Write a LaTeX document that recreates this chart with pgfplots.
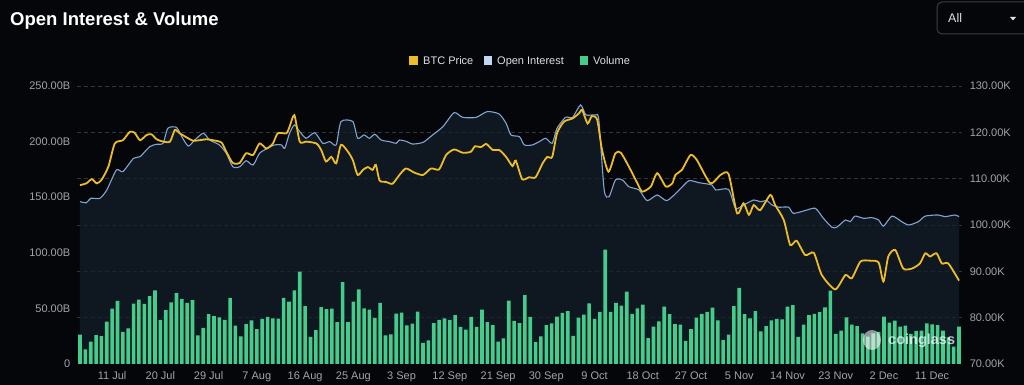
\documentclass[border=0pt]{standalone}
\usepackage{fontspec}
\setmainfont{Liberation Sans}
\usepackage{pgfplots}
\pgfplotsset{compat=1.18}
\definecolor{bg}{RGB}{5,6,9}
\definecolor{areac}{RGB}{20,30,42}
\definecolor{gridc}{RGB}{50,54,62}
\definecolor{tickc}{RGB}{160,164,171}
\definecolor{btc}{RGB}{238,188,38}
\definecolor{oic}{RGB}{128,165,210}
\definecolor{volc}{RGB}{70,204,138}
\definecolor{legoi}{RGB}{196,214,245}
\definecolor{legtxt}{RGB}{222,224,228}
\begin{document}
\begin{tikzpicture}[x=1pt,y=1pt]
\fill[bg] (0,0) rectangle (1024,385);
% title
\node[anchor=base west, inner sep=0, text=white, font=\fontsize{18.5}{20}\selectfont\bfseries] at (10,359) {Open Interest \& Volume};
% All box
\draw[draw={rgb,255:red,58;green,60;blue,66}, line width=1pt, rounded corners=5pt] (937,351) rectangle (1032,383);
\node[anchor=base west, inner sep=0, text=legtxt, font=\fontsize{12.5}{14}\selectfont] at (948,362) {All};
\fill[legtxt] (1010,368) -- (1016,368) -- (1013,364.5) -- cycle;
% legend
\fill[btc] (409,320) rectangle (417.5,328.5);
\node[anchor=base west, inner sep=0, text=legtxt, font=\fontsize{11}{13}\selectfont] at (423,320.5) {BTC Price};
\fill[legoi] (483.5,320) rectangle (492,328.5);
\node[anchor=base west, inner sep=0, text=legtxt, font=\fontsize{11}{13}\selectfont] at (497,320.5) {Open Interest};
\fill[volc] (579.5,320) rectangle (588,328.5);
\node[anchor=base west, inner sep=0, text=legtxt, font=\fontsize{11}{13}\selectfont] at (593,320.5) {Volume};

\begin{axis}[
  at={(77.3pt,21pt)}, anchor=south west,
  scale only axis, width=884.4pt, height=278pt,
  xmin=-0.5, xmax=164.5, ymin=0, ymax=250,
  axis line style={draw=none},
  major tick length=0pt,
  xtick={6,15,24,33,42,51,60,69,78,87,96,105,114,123,132,141,150,159},
  xticklabels={11 Jul,20 Jul,29 Jul,7 Aug,16 Aug,25 Aug,3 Sep,12 Sep,21 Sep,30 Sep,9 Oct,18 Oct,27 Oct,5 Nov,14 Nov,23 Nov,2 Dec,11 Dec},
  ytick={0,50,100,150,200,250},
  yticklabels={0,50.00B,100.00B,150.00B,200.00B,250.00B},
  tick label style={text=tickc, font=\fontsize{11}{13}\selectfont},
  xticklabel style={yshift=-4pt},
  yticklabel style={xshift=-3.5pt},
  extra y ticks={41.6667,83.3333,125,166.6667,208.3333,250},
  extra y tick labels={},
  extra y tick style={grid=major, major grid style={gridc, dash pattern=on 3.5pt off 3.5pt, line width=0.8pt}},
]
% open interest area
\addplot[draw=none, fill=areac, fill opacity=0.72, smooth, tension=0.4] table {
0 146
1.2 145
2 149
3.7 149
5 156.5
6.8 174.5
8 173
10 185
11.2 186.4
13 195.4
14.3 197.6
15.5 198.5
16.4 212
18 212.8
19 204.4
20.2 196
21.4 201.4
23 207.5
24.2 201.4
26 197
27.3 189.5
28.5 177.4
29.8 177.4
31 182.8
32.3 179
33.5 189.5
35 194
36.3 197
37.6 197
38.2 194
39.1 207.5
40 215
41 209
42.2 203
43.8 208
45.3 198.5
46.6 200
47.8 197
48.7 218
50.9 218
51.8 203
53 206
54 203
55 206.6
56.2 201.4
57.7 200
59 198.5
59.6 201.4
61 200
62 197.8
64 199.3
65.8 206
67.7 213.4
69.8 226
71.4 221.8
73.9 221.8
76 227
78.2 224.8
79.5 216.4
80.4 206
82 204.4
82.9 197
84.4 197
85.7 200
86.9 203
88.1 198.5
89 212
90.6 221.8
91.9 221.8
93.4 233
94.4 224
96.2 224
96.8 219.4
97.8 156.5
98.7 150.4
99.9 165.5
101.2 165.5
102.4 159.4
104.3 156.5
105.8 146.9
107.7 152
109.5 146.9
111.7 156
113.6 164.8
115.5 163
117.9 161
118.6 156.5
121 157
122.3 140
123.8 143
125.7 147.5
126.9 146
128.2 146.9
129.1 143
130.4 141
132.2 141
133.1 135.5
135.3 138
137.2 140
138.7 131
140.3 123
141.2 123
142.8 129.5
143.7 128
144.6 133
146.2 131
147.7 131.6
149 129.5
149.9 124
151.5 133
153.3 128
154.6 125
156.4 128
157.7 133
160.1 134
161.4 132.5
163.2 134
164 132.5
} \closedcycle;
% volume bars
\addplot[ybar, bar width=3.6pt, fill=volc, draw=none] table {
0 26.4
1 13.2
2 20.2
3 26.0
4 25.0
5 38.0
6 49.7
7 56.7
8 28.8
9 32.0
10 54.3
11 58.0
12 54.0
13 61.0
14 66.3
15 39.6
16 48.5
17 55.5
18 63.8
19 58.6
20 55.0
21 57.4
22 25.8
23 32.5
24 44.8
25 43.0
26 42.0
27 39.6
28 59.5
29 34.4
30 24.8
31 35.9
32 39.3
33 31.3
34 40.5
35 42.3
36 41.1
37 40.8
38 59.5
39 56.1
40 66.3
41 83.1
42 52.1
43 24.5
44 30.4
45 51.2
46 49.4
47 49.7
48 37.7
49 73.6
50 37.7
51 56.1
52 67.2
53 50.0
54 48.8
55 41.4
56 54.9
57 25.8
58 26.7
59 45.4
60 46.3
61 34.7
62 36.2
63 47.2
64 19.0
65 21.2
66 36.8
67 39.6
68 41.1
69 39.6
70 43.9
71 33.4
72 31.0
73 42.3
74 33.4
75 48.8
76 37.7
77 35.0
78 20.2
79 23.0
80 57.0
81 38.7
82 36.8
83 62.0
84 42.3
85 19.6
86 24.8
87 35.0
88 36.5
89 42.6
90 46.0
91 47.5
92 25.2
93 41.7
94 44.5
95 54.6
96 40.5
97 46.9
98 102.8
99 46.9
100 54.9
101 52.5
102 65.0
103 45.1
104 50.0
105 53.4
106 23.3
107 33.7
108 38.3
109 51.5
110 44.8
111 35.9
112 35.3
113 20.9
114 31.3
115 41.7
116 45.1
117 46.9
118 50.6
119 39.3
120 21.5
121 26.4
122 52.1
123 68.4
124 44.8
125 41.1
126 47.5
127 29.4
128 34.0
129 39.3
130 40.5
131 40.2
132 51.5
133 53.0
134 24.5
135 35.3
136 43.9
137 45.1
138 46.6
139 50.9
140 66.0
141 27.0
142 30.0
143 42.0
144 35.5
145 34.0
146 27.6
147 24.6
148 27.6
149 29.0
150 42.6
151 37.2
152 39.0
153 33.6
154 34.5
155 27.0
156 29.7
157 30.0
158 36.6
159 35.7
160 35.0
161 30.0
162 24.0
163 15.6
164 33.6
};
% open interest line
\addplot[oic, line width=1.1pt, smooth, tension=0.4] table {
0 146
1.2 145
2 149
3.7 149
5 156.5
6.8 174.5
8 173
10 185
11.2 186.4
13 195.4
14.3 197.6
15.5 198.5
16.4 212
18 212.8
19 204.4
20.2 196
21.4 201.4
23 207.5
24.2 201.4
26 197
27.3 189.5
28.5 177.4
29.8 177.4
31 182.8
32.3 179
33.5 189.5
35 194
36.3 197
37.6 197
38.2 194
39.1 207.5
40 215
41 209
42.2 203
43.8 208
45.3 198.5
46.6 200
47.8 197
48.7 218
50.9 218
51.8 203
53 206
54 203
55 206.6
56.2 201.4
57.7 200
59 198.5
59.6 201.4
61 200
62 197.8
64 199.3
65.8 206
67.7 213.4
69.8 226
71.4 221.8
73.9 221.8
76 227
78.2 224.8
79.5 216.4
80.4 206
82 204.4
82.9 197
84.4 197
85.7 200
86.9 203
88.1 198.5
89 212
90.6 221.8
91.9 221.8
93.4 233
94.4 224
96.2 224
96.8 219.4
97.8 156.5
98.7 150.4
99.9 165.5
101.2 165.5
102.4 159.4
104.3 156.5
105.8 146.9
107.7 152
109.5 146.9
111.7 156
113.6 164.8
115.5 163
117.9 161
118.6 156.5
121 157
122.3 140
123.8 143
125.7 147.5
126.9 146
128.2 146.9
129.1 143
130.4 141
132.2 141
133.1 135.5
135.3 138
137.2 140
138.7 131
140.3 123
141.2 123
142.8 129.5
143.7 128
144.6 133
146.2 131
147.7 131.6
149 129.5
149.9 124
151.5 133
153.3 128
154.6 125
156.4 128
157.7 133
160.1 134
161.4 132.5
163.2 134
164 132.5
};
\end{axis}

\begin{axis}[
  at={(77.3pt,21pt)}, anchor=south west,
  scale only axis, width=884.4pt, height=278pt,
  xmin=-0.5, xmax=164.5, ymin=70, ymax=130,
  axis x line=none, axis y line*=right,
  axis line style={draw=none},
  major tick length=0pt,
  ytick={70,80,90,100,110,120,130},
  yticklabels={70.00K,80.00K,90.00K,100.00K,110.00K,120.00K,130.00K},
  tick label style={text=tickc, font=\fontsize{11}{13}\selectfont},
  yticklabel style={xshift=4.5pt},
]
\addplot[btc, line width=1.8pt, smooth, tension=0.4] table {
0 108.6
1.2 109
2.2 109.9
3.1 109
4 109.7
5.3 112.6
6.5 117.6
8 118.3
9.3 120.1
10.2 119.9
11.2 118.3
12.4 119.4
13.3 119.6
14.3 118.5
15.5 118
16.8 118
17.7 120.5
18.6 119.8
19.9 118.9
21.1 118.2
22.3 118.3
23.6 118.5
24.8 118.3
26.4 117.8
27.3 115.8
28.5 113.4
29.8 113.4
31 115.5
32.3 115.1
33.5 117.6
34.8 116.5
36 117.6
36.9 119.8
38.5 119.8
39.1 121.2
40 123.7
41 118
42.2 118
44.1 117.6
45 116.2
45.9 113.7
46.9 114.7
47.8 113.3
48.7 117.3
50 115.8
50.9 114
51.8 110.8
52.8 111.9
53.7 112.5
54.6 111.9
55.2 113
55.9 109.6
57.1 109.3
58.3 108.9
59.6 110.8
60.8 112.2
62.4 111.3
64 110.8
65.5 112.2
67 112
68.3 115.1
69.8 116.3
71.4 115.6
72.9 115.8
73.7 117
74.8 116.8
75.8 117.5
77 116.2
78.2 116.2
79.5 114.7
80.7 112.7
81.3 113.9
82.5 109.9
83.8 110.3
85 110.3
86.3 113.3
87.2 114.7
88.1 114.7
89 119.8
90.3 122.3
91.9 123
93.1 124.1
93.7 124.8
94.7 121.9
95.5 123.5
96.5 122.7
97.4 116.2
98.6 111.5
99.9 115.5
100.9 115.6
102.4 112.6
104 109
104.9 107.2
106.5 108.3
107.7 111.2
109.3 108.3
110.5 109
111.1 110.8
112.3 111.9
113.9 115.1
115.1 114
117.6 109
119.5 110.8
121 111
122.6 102.5
123.8 104.7
124.8 102.2
125.7 104.3
126.9 103.2
128.8 106.5
129.7 104.3
131.3 101.1
132.5 95.7
133.7 96.6
135.3 93.5
136.9 94
138.4 89.2
140.9 86.1
142.8 89.2
144 88.5
145.6 92.1
147.4 92.3
149 91.9
149.9 87.8
150.8 93.2
152.1 94.6
153.6 90.6
155.2 90.6
156.7 91.7
157.7 93.9
158.6 93.2
159.8 93.9
160.8 91.7
162 91.7
164 88
};
\end{axis}
% watermark
\fill[white, opacity=0.55] (872,45) ellipse (9 and 10);
\node[anchor=base west, inner sep=0, text=white, opacity=0.7, font=\fontsize{14.5}{16}\selectfont\bfseries] at (888,40) {coinglass};
\pgfresetboundingbox
\path[use as bounding box] (0,0) rectangle (1024,385);
\end{tikzpicture}
\end{document}
